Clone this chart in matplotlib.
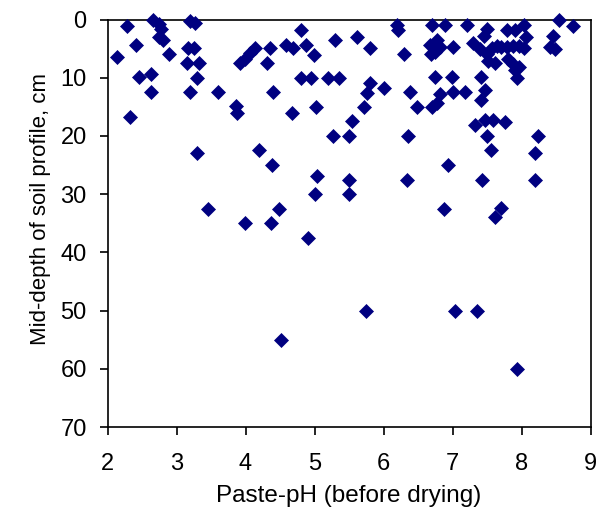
import matplotlib
matplotlib.use("Agg")
import matplotlib.pyplot as plt

plt.rcParams['font.family'] = ['Liberation Sans', 'DejaVu Sans']

ph = [2.14, 2.28, 2.33, 2.42, 2.45, 2.63, 2.63, 2.66, 2.74, 2.77, 2.74, 2.80, 2.89,
      3.20, 3.27, 3.17, 3.26, 3.15, 3.32, 3.29, 3.20, 3.29, 3.46, 3.60, 3.86, 3.88,
      3.92, 3.99, 4.06, 4.14, 3.99, 4.19, 4.31, 4.36, 4.39, 4.37, 4.40, 4.49, 4.51,
      4.59, 4.69, 4.68, 4.80, 4.81, 4.88, 4.90, 4.95, 4.99, 5.02, 5.03, 5.01, 5.20,
      5.27, 5.30, 5.35, 5.50, 5.50, 5.50, 5.55, 5.62, 5.72, 5.75, 5.76, 5.80, 5.81,
      6.00, 6.19, 6.21, 6.29, 6.34, 6.35, 6.38, 6.48,
      6.70, 6.89, 7.21, 7.50, 7.45, 7.79, 7.91, 8.03, 8.07, 8.46, 8.55, 8.74, 8.41,
      8.48, 6.77, 6.67, 6.82, 6.74, 6.69, 7.01, 7.30, 7.40, 7.50, 7.57, 7.64, 7.71,
      7.79, 7.88, 7.96, 8.03, 7.52, 7.62, 7.81, 7.88, 7.97, 7.91, 7.93, 6.75, 6.99,
      7.42, 6.82, 7.01, 7.18, 7.47, 7.42, 6.77, 6.70, 7.33, 7.47, 7.59, 7.76, 7.50,
      8.24, 6.94, 7.56, 8.20, 7.43, 8.20, 6.88, 7.70, 7.61, 7.04, 7.35, 7.93]

depth = [6.4, 1.1, 16.8, 4.4, 9.9, 9.4, 12.4, 0.1, 0.7, 1.6, 3.0, 3.6, 6.0,
         0.3, 0.6, 4.95, 4.95, 7.4, 7.4, 10.0, 12.4, 23.0, 32.5, 12.4, 14.9, 16.1,
         7.4, 6.7, 5.8, 4.9, 35.0, 22.4, 7.4, 4.95, 25.0, 35.0, 12.5, 32.5, 55.0,
         4.4, 4.95, 16.0, 1.8, 10.0, 4.4, 37.5, 10.0, 6.1, 15.0, 26.9, 30.0, 10.0,
         20.0, 3.5, 10.0, 20.0, 27.5, 30.0, 17.4, 2.95, 15.0, 50.0, 12.6, 10.9, 4.95,
         11.8, 0.95, 1.8, 6.0, 27.5, 20.0, 12.4, 15.0,
         1.0, 1.0, 1.0, 1.6, 2.8, 1.8, 1.8, 1.0, 3.0, 2.8, 0.0, 1.1, 4.8,
         5.1, 3.6, 4.4, 4.8, 5.5, 6.0, 4.8, 4.1, 5.0, 5.9, 4.9, 4.6, 4.8,
         4.8, 4.6, 4.6, 4.9, 7.1, 7.4, 6.7, 7.6, 8.1, 8.7, 10.0, 9.9, 9.9,
         9.9, 12.8, 12.5, 12.5, 12.1, 13.8, 14.4, 15.0, 18.1, 17.3, 17.3, 17.6, 20.0,
         20.0, 25.0, 22.4, 23.0, 27.5, 27.5, 32.5, 32.4, 34.0, 50.0, 50.0, 60.0]

x_ticks = [2, 3, 4, 5, 6, 7, 8, 9]
y_ticks = [0, 10, 20, 30, 40, 50, 60, 70]

fig = plt.figure(figsize=(6.01, 5.17), dpi=100)
ax = fig.add_axes([107.5 / 601, 1 - 427 / 517, (590.5 - 107.5) / 601, (427 - 19.5) / 517])

ax.plot(ph, depth, linestyle='none', marker='D', markersize=7.2,
        markerfacecolor='#000080', markeredgecolor='#000080', markeredgewidth=0.5,
        clip_on=False, zorder=3)

ax.set_xlim(2, 9)
ax.set_ylim(70, 0)
ax.set_xticks(x_ticks)
ax.set_yticks(y_ticks)
ax.tick_params(axis='both', direction='out', length=6, width=1.2, labelsize=17,
               colors='black')
ax.tick_params(axis='x', pad=13)
ax.tick_params(axis='y', pad=9)
for s in ax.spines.values():
    s.set_linewidth(1.2)
    s.set_color('black')

ax.set_xlabel('Paste-pH (before drying)', fontsize=17.5, labelpad=7)
ax.set_ylabel('Mid-depth of soil profile, cm', fontsize=16)
ax.yaxis.set_label_coords(-0.118, 0.535)

fig.savefig('out.png', dpi=100)
